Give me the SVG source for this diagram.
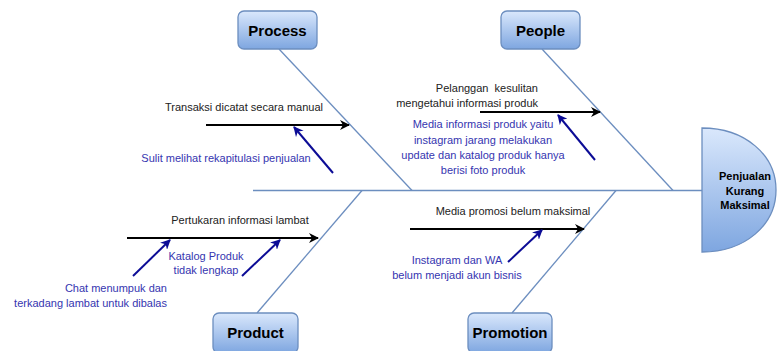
<svg xmlns="http://www.w3.org/2000/svg" width="778" height="351" viewBox="0 0 778 351">
<defs>
<linearGradient id="g" x1="0" y1="0" x2="0" y2="1">
<stop offset="0" stop-color="#dae8fc"/>
<stop offset="1" stop-color="#7ea6e0"/>
</linearGradient>
<marker id="ab" viewBox="0 0 10 10" refX="9" refY="5" markerWidth="5" markerHeight="5" orient="auto" markerUnits="strokeWidth">
<path d="M0,0 L10,5 L0,10 L3,5 Z" fill="#000"/>
</marker>
<marker id="au" viewBox="0 0 10 10" refX="9" refY="5" markerWidth="5" markerHeight="5" orient="auto" markerUnits="strokeWidth">
<path d="M0,0 L10,5 L0,10 L3,5 Z" fill="#0c0c96"/>
</marker>
</defs>
<style>
.box{fill:url(#g);stroke:#6c8ebf;stroke-width:1.3}
.bt{font-family:"Liberation Sans",Arial,sans-serif;font-weight:bold;font-size:15px;fill:#000;text-anchor:middle}
.ht{font-family:"Liberation Sans",Arial,sans-serif;font-weight:bold;font-size:11px;fill:#000;text-anchor:middle}
.bone{stroke:#6c8ebf;stroke-width:1.3;fill:none}
.ef{stroke:#000;stroke-width:2;fill:none;marker-end:url(#ab)}
.cs{stroke:#0c0c96;stroke-width:2;fill:none;marker-end:url(#au)}
.tk{font-family:"Liberation Sans",Arial,sans-serif;font-size:11px;fill:#222;white-space:pre}
.tb{font-family:"Liberation Sans",Arial,sans-serif;font-size:11px;fill:#3535b0}
</style>
<g id="connectors">
<line class="bone" x1="253" y1="190.5" x2="702" y2="190.5"/>
<line class="bone" x1="279" y1="49" x2="412" y2="190.5"/>
<line class="bone" x1="542" y1="49" x2="673" y2="190.5"/>
<line class="bone" x1="257" y1="313" x2="362" y2="190.5"/>
<line class="bone" x1="512" y1="313" x2="616" y2="190.5"/>
<line class="ef" x1="206" y1="125" x2="349" y2="125"/>
<line class="cs" x1="333" y1="173" x2="294" y2="127"/>
<line class="ef" x1="480" y1="112" x2="600" y2="112"/>
<line class="cs" x1="595" y1="160" x2="558" y2="115"/>
<line class="ef" x1="127" y1="238" x2="318" y2="238"/>
<line class="cs" x1="133" y1="276" x2="170" y2="240"/>
<line class="cs" x1="242" y1="276" x2="280" y2="240"/>
<line class="ef" x1="410" y1="229" x2="584" y2="229"/>
<line class="cs" x1="508" y1="262" x2="542" y2="230"/>
</g>
<g id="process"><rect class="box" x="238" y="11" width="79" height="38" rx="6"/><text class="bt" x="277.5" y="35.5">Process</text></g>
<g id="people"><rect class="box" x="501" y="11" width="79" height="38" rx="6"/><text class="bt" x="540.5" y="35.5">People</text></g>
<g id="product"><rect class="box" x="213" y="313" width="85" height="40" rx="6"/><text class="bt" x="255.5" y="338">Product</text></g>
<g id="promotion"><rect class="box" x="468" y="313" width="84" height="40" rx="6"/><text class="bt" x="510" y="338">Promotion</text></g>
<g id="head">
<path class="box" d="M702,128 C745,128 776,155 776,190 C776,225 745,252 702,252 Z"/>
<text class="ht" x="745" y="180">Penjualan</text>
<text class="ht" x="745" y="195">Kurang</text>
<text class="ht" x="745" y="209">Maksimal</text>
</g>
<g id="process-causes">
<text class="tk" x="244" y="111" text-anchor="middle">Transaksi dicatat secara manual</text>
<text class="tb" x="226" y="162" text-anchor="middle">Sulit melihat rekapitulasi penjualan</text>
</g>
<g id="people-causes">
<text class="tk" x="538" y="92" text-anchor="end">Pelanggan  kesulitan</text>
<text class="tk" x="538" y="107" text-anchor="end">mengetahui informasi produk</text>
<text class="tb" x="483" y="128" text-anchor="middle">Media informasi produk yaitu</text>
<text class="tb" x="483" y="144" text-anchor="middle">instagram jarang melakukan</text>
<text class="tb" x="483" y="159" text-anchor="middle">update dan katalog produk hanya</text>
<text class="tb" x="483" y="174" text-anchor="middle">berisi foto produk</text>
</g>
<g id="product-causes">
<text class="tk" x="240" y="224" text-anchor="middle">Pertukaran informasi lambat</text>
<text class="tb" x="206" y="260" text-anchor="middle">Katalog Produk</text>
<text class="tb" x="206" y="274" text-anchor="middle">tidak lengkap</text>
<text class="tb" x="167" y="292" text-anchor="end">Chat menumpuk dan</text>
<text class="tb" x="167" y="307" text-anchor="end">terkadang lambat untuk dibalas</text>
</g>
<g id="promotion-causes">
<text class="tk" x="513" y="215" text-anchor="middle">Media promosi belum maksimal</text>
<text class="tb" x="457" y="264" text-anchor="middle">Instagram dan WA</text>
<text class="tb" x="457" y="279" text-anchor="middle">belum menjadi akun bisnis</text>
</g>
</svg>
